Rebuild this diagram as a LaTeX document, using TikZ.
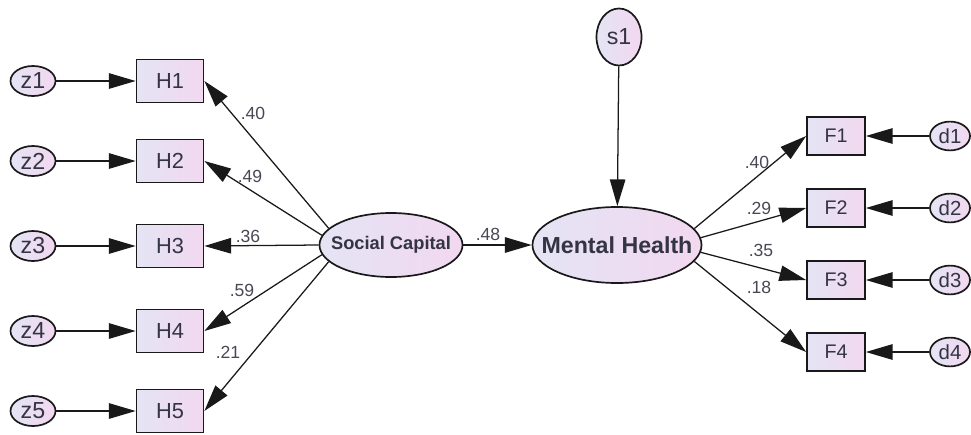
\documentclass[tikz,border=0pt]{standalone}
\usepackage{fontspec}
\setmainfont{Liberation Sans}
\usetikzlibrary{shapes.geometric,arrows.meta}
\definecolor{lilac}{RGB}{228,228,244}
\definecolor{rosa}{RGB}{242,216,240}
\definecolor{ink}{RGB}{52,52,66}
\begin{document}
\begin{tikzpicture}[x=0.025cm, y=-0.025cm,
    shade/.style={draw=black!90, line width=1.2pt, left color=lilac, right color=rosa, text=ink},
    hbox/.style={shade, rectangle, minimum width=1.675cm, minimum height=1.075cm, inner sep=0pt, font=\fontsize{15.5pt}{15.5pt}\selectfont},
    fbox/.style={shade, rectangle, minimum width=1.45cm, minimum height=0.95cm, inner sep=0pt, font=\fontsize{14pt}{14pt}\selectfont},
    err/.style={shade, ellipse, minimum width=1.125cm, minimum height=0.75cm, inner sep=0pt, font=\fontsize{16.5pt}{16.5pt}\selectfont},
    latent/.style={shade, ellipse, inner ysep=0pt, font=\bfseries},
    coef/.style={text=ink!90, font=\fontsize{12.5pt}{12.5pt}\selectfont, inner sep=0pt},
    arr/.style={line width=0.9pt, draw=black!90, -{Triangle[length=19pt, width=11pt]}}]
    \useasboundingbox (0,0) rectangle (971,434);
    % latent variables
    \node[latent, minimum width=3.575cm, minimum height=1.6cm, inner xsep=-9pt, font=\bfseries\fontsize{13pt}{13pt}\selectfont] (sc) at (391,245) {Social Capital};
    \node[latent, minimum width=4.225cm, minimum height=1.9cm, inner xsep=-12pt, font=\bfseries\fontsize{16.5pt}{16.5pt}\selectfont] (mh) at (617,245) {Mental Health};
    \node[err, minimum width=1.125cm, minimum height=1.425cm] (s1) at (619,37) {s1};
    % indicators of social capital
    \foreach \i/\y/\a in {1/81/165, 2/161/172, 3/246/180, 4/331/188, 5/411/195} {
        \node[hbox] (h\i) at (170,\y) {H\i};
        \node[err] (z\i) at (33,\y) {z\i};
        \draw[arr] (z\i) -- (h\i);
        \draw[arr] (sc.\a) -- (h\i.east);
    }
    % indicators of mental health
    \foreach \i/\y/\a in {1/136/12, 2/208/5, 3/280/-5, 4/352/-12} {
        \node[fbox] (f\i) at (836,\y) {F\i};
        \node[err, minimum width=1cm, minimum height=0.72cm, font=\fontsize{14.5pt}{14.5pt}\selectfont] (d\i) at (950,\y) {d\i};
        \draw[arr] (d\i) -- (f\i);
        \draw[arr] (mh.\a) -- (f\i.west);
    }
    \draw[arr] (sc) -- (mh);
    \draw[arr] (s1) -- (mh);
    % path coefficients
    \node[coef] (c1) at (253,113) {.40};
    \node[coef] (c2) at (250,176) {.49};
    \node[coef] (c3) at (248,236) {.36};
    \node[coef] (c4) at (242,290) {.59};
    \node[coef] (c5) at (228,352) {.21};
    \node[coef] (c6) at (488,234) {.48};
    \node[coef] (c7) at (757,162) {.40};
    \node[coef] (c8) at (759,208) {.29};
    \node[coef] (c9) at (761,250) {.35};
    \node[coef] (c10) at (759,287) {.18};
\end{tikzpicture}
\end{document}
